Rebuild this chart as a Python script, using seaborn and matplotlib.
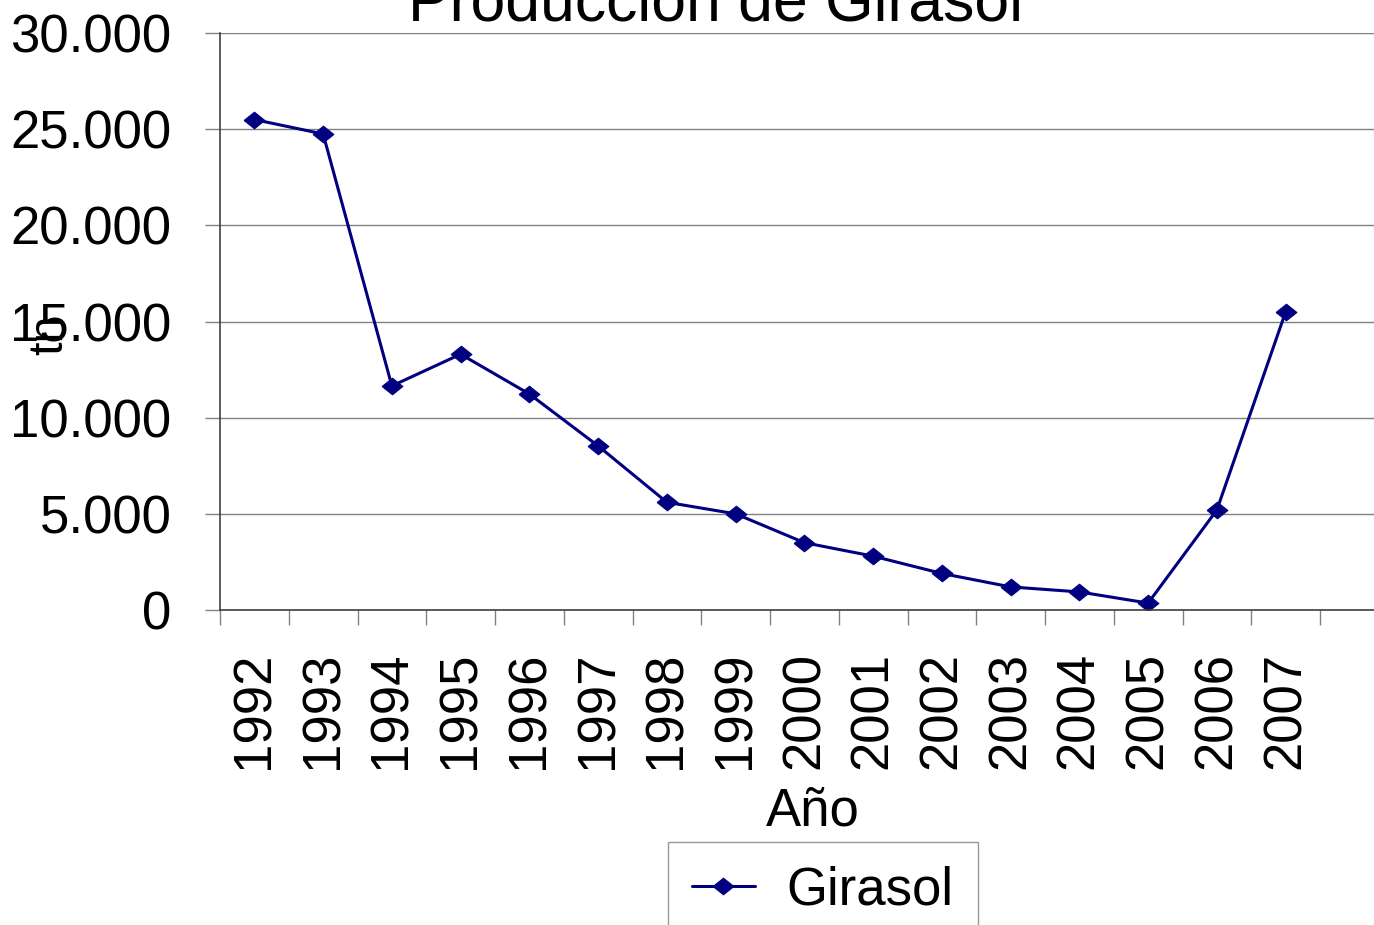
import numpy as np
import pandas as pd
import seaborn as sns
import matplotlib.pyplot as plt
from matplotlib.ticker import FuncFormatter, FixedLocator

# Data
years = ["1992", "1993", "1994", "1995", "1996", "1997", "1998", "1999",
         "2000", "2001", "2002", "2003", "2004", "2005", "2006", "2007"]
girasol = [25500, 24750, 11650, 13300, 11230, 8530, 5600, 5000,
           3500, 2800, 1900, 1200, 940, 360, 5200, 15500]

df = pd.DataFrame({"Año": years, "tn": girasol})
df["pos"] = np.arange(len(years))

sns.set_style("white")
plt.rcParams["font.family"] = ["Liberation Sans", "DejaVu Sans"]
plt.rcParams["text.color"] = "black"
plt.rcParams["xtick.color"] = "black"
plt.rcParams["ytick.color"] = "black"
fs = 38

fig = plt.figure(figsize=(13.74, 9.25), dpi=100)
ax = fig.add_axes([220 / 1374, (925 - 610) / 925, 1 - 220 / 1374, (610 - 33) / 925])

# diamond a bit wider than tall, as in the reference
diamond = [(-1, 0), (0, 0.8), (1, 0), (0, -0.8), (-1, 0)]
sns.lineplot(data=df, x="pos", y="tn", ax=ax, color="#000080", marker=diamond,
             markersize=15, markeredgecolor="#000080", linewidth=2.2, label="Girasol")

ax.set_xlim(-0.5, (1374 - 220) / 68.75 - 0.5)
ax.set_ylim(0, 30000)
ax.set_yticks(range(0, 30001, 5000))
ax.yaxis.set_major_formatter(FuncFormatter(lambda v, p: f"{int(v):,}".replace(",", ".")))
ax.grid(axis="y", color="#808080", linewidth=1)
ax.set_axisbelow(True)

ax.set_xticks(df["pos"])
ax.set_xticklabels(years, rotation=90)
ax.xaxis.set_minor_locator(FixedLocator(np.arange(-0.5, 16.5, 1)))
ax.tick_params(axis="x", which="major", length=0, pad=30, labelsize=fs, labelcolor="black")
ax.tick_params(axis="x", which="minor", length=11, width=1, color="#808080", bottom=True)
ax.tick_params(axis="y", length=11, width=1, color="#808080", pad=24, labelsize=fs,
               left=True, labelcolor="black")

for s in ["top", "right"]:
    ax.spines[s].set_visible(False)
ax.spines["left"].set_color("#404040")
ax.spines["bottom"].set_color("#404040")
ax.spines["left"].set_linewidth(1.2)
ax.spines["bottom"].set_linewidth(1.2)

ax.set_xlabel("")
ax.set_ylabel("")
fig.text(50 / 1374, 1 - 335 / 925, "tn", rotation=90, ha="center", va="center", fontsize=35)
fig.text(813 / 1374, 1 - 825 / 925, "Año", ha="center", va="baseline", fontsize=fs)
fig.text(715 / 1374, 1 - 22 / 925, "Producción de Girasol", ha="center", va="baseline", fontsize=45)

leg = ax.legend(loc="upper left", bbox_to_anchor=(668 / 1374, 1 - 842 / 925),
                bbox_transform=fig.transFigure, fontsize=fs, frameon=True, fancybox=False,
                borderpad=0.45, handlelength=1.2, handletextpad=0.6, borderaxespad=0)
leg.get_frame().set_edgecolor("#808080")
leg.get_frame().set_linewidth(1)

fig.savefig("out.png", dpi=100)
